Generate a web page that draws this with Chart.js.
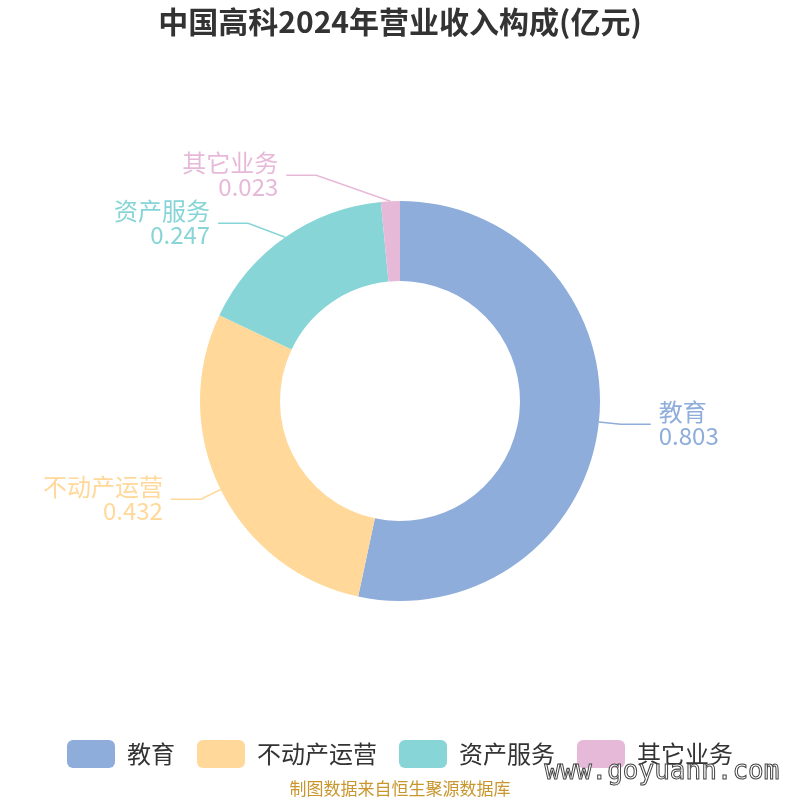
<!DOCTYPE html>
<html>
<head>
<meta charset="utf-8">
<script src="https://cdn.jsdelivr.net/npm/chart.js@4.4.1/dist/chart.umd.min.js"></script>
<style>
  html, body { margin: 0; padding: 0; background: #fff; }
  #wrap { width: 800px; height: 800px; }
</style>
</head>
<body>
<div id="wrap"><canvas id="pieChart" width="800" height="800"></canvas></div>
<script>
// chart data
const categories = ['教育', '不动产运营', '资产服务', '其它业务'];
const revenue = [0.803, 0.432, 0.247, 0.023];
const sliceColors = ['#8eaddb', '#ffd89a', '#87d5d7', '#e7b9d9'];
const titleText = '中国高科2024年营业收入构成(亿元)';
const sourceText = '制图数据来自恒生聚源数据库';
const watermarkText = 'www.goyuann.com';

const FONT = "'Noto Sans CJK SC', 'Noto Sans', sans-serif";

// labels outside the ring with elbow leader lines
const outerLabels = {
    id: 'outerLabels',
    afterDatasetsDraw(chart) {
        const ctx = chart.ctx;
        const meta = chart.getDatasetMeta(0);
        const len1 = 22, len2 = 30, gap = 8, lineH = 24;
        const items = meta.data.map((arc, i) => {
            const a = (arc.startAngle + arc.endAngle) / 2;
            const R = arc.outerRadius;
            const dir = Math.cos(a) >= 0 ? 1 : -1;
            return {
                i, a, R, dir, cx: arc.x, cy: arc.y,
                sx: arc.x + Math.cos(a) * R,
                sy: arc.y + Math.sin(a) * R,
                ex: arc.x + Math.cos(a) * (R + len1),
                ey: arc.y + Math.sin(a) * (R + len1)
            };
        });

        // push apart labels that overlap on the same side
        [1, -1].forEach(dir => {
            const side = items.filter(it => it.dir === dir).sort((p, q) => p.ey - q.ey);
            for (let pass = 0; pass < 10; pass++) {
                for (let k = 1; k < side.length; k++) {
                    const d = side[k].ey - side[k - 1].ey;
                    if (d < lineH * 2) {
                        const s = (lineH * 2 - d) / 2;
                        side[k - 1].ey -= s;
                        side[k].ey += s;
                    }
                }
            }
            // re-place x on an ellipse for quarters where labels went past the ring
            [1, -1].forEach(half => {
                const q = side.filter(it => Math.sign(it.ey - it.cy) === half || (half === 1 && it.ey === it.cy));
                if (!q.length) return;
                const rA = q[0].R + len1;
                const maxDy = Math.max(...q.map(it => Math.abs(it.ey - it.cy)));
                if (maxDy <= rA) return;
                const rB = maxDy + 18;
                q.forEach(it => {
                    const dy = Math.abs(it.ey - it.cy);
                    it.ex = it.cx + dir * rA * Math.sqrt(Math.max(0, 1 - dy * dy / (rB * rB)));
                });
            });
        });

        ctx.save();
        items.forEach(it => {
            const color = sliceColors[it.i];
            const endX = it.ex + it.dir * len2;
            ctx.strokeStyle = color;
            ctx.lineWidth = 1.5;
            ctx.beginPath();
            ctx.moveTo(it.sx, it.sy);
            ctx.lineTo(it.ex, it.ey);
            ctx.lineTo(endX, it.ey);
            ctx.stroke();

            ctx.fillStyle = color;
            ctx.font = '24px ' + FONT;
            ctx.textAlign = it.dir > 0 ? 'left' : 'right';
            ctx.textBaseline = 'middle';
            const tx = endX + it.dir * gap;
            ctx.fillText(categories[it.i], tx, it.ey - lineH / 2);
            ctx.fillText(revenue[it.i].toFixed(3), tx, it.ey + lineH / 2);
        });
        ctx.restore();
    }
};

// source line and watermark under the legend
const footer = {
    id: 'footer',
    afterDraw(chart) {
        const ctx = chart.ctx;
        ctx.save();
        ctx.textAlign = 'center';
        ctx.textBaseline = 'middle';
        ctx.fillStyle = '#c9962e';
        ctx.font = '17px ' + FONT;
        ctx.fillText(sourceText, 400, 789);

        ctx.font = '26px "DejaVu Sans Mono", monospace';
        ctx.translate(662, 772);
        ctx.scale(1.0, 1.05);
        ctx.lineWidth = 1;
        ctx.strokeStyle = '#444';
        ctx.fillStyle = '#fff';
        ctx.fillText(watermarkText, 0, 0);
        ctx.strokeText(watermarkText, 0, 0);
        ctx.restore();
    }
};

new Chart(document.getElementById('pieChart').getContext('2d'), {
    type: 'doughnut',
    data: {
        labels: categories,
        datasets: [{
            data: revenue,
            backgroundColor: sliceColors,
            borderWidth: 0,
            hoverOffset: 0
        }]
    },
    options: {
        responsive: false,
        animation: false,
        radius: 200,
        cutout: '60%',
        layout: { padding: { top: 0, bottom: 22 } },
        plugins: {
            title: {
                display: true,
                text: titleText,
                color: '#333',
                font: { size: 30, weight: 'bold', family: FONT },
                padding: { top: 4, bottom: 44 }
            },
            legend: {
                display: true,
                position: 'bottom',
                labels: {
                    color: '#333',
                    font: { size: 24, family: FONT },
                    boxWidth: 48,
                    boxHeight: 28,
                    padding: 22,
                    useBorderRadius: true,
                    borderRadius: 6
                }
            },
            tooltip: { enabled: false }
        }
    },
    plugins: [outerLabels, footer]
});
</script>
</body>
</html>
